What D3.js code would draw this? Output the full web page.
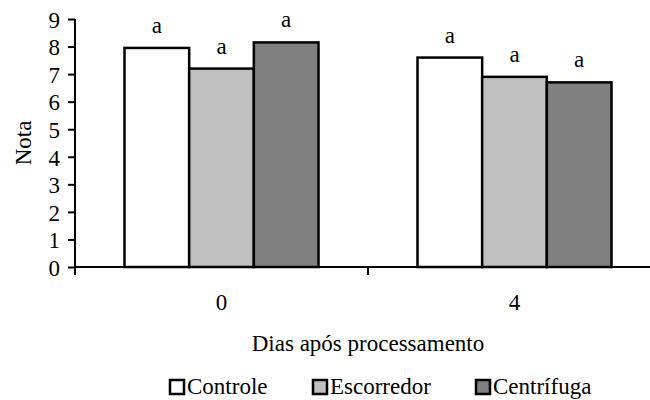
<!DOCTYPE html>
<html>
<head>
<meta charset="utf-8">
<script src="https://cdn.jsdelivr.net/npm/d3@7"></script>
<style>
  body { margin: 0; background: #fff; }
</style>
</head>
<body>
<div id="my_dataviz"></div>
<script>
// data
const days = ["0", "4"]
const treatments = ["Controle", "Escorredor", "Centrífuga"]
const controle = [7.95, 7.6]
const escorredor = [7.2, 6.9]
const centrifuga = [8.15, 6.7]
const letters = [["a", "a", "a"], ["a", "a", "a"]]
const yTicks = [0, 1, 2, 3, 4, 5, 6, 7, 8, 9]
const colors = ["#ffffff", "#c0c0c0", "#808080"]

const series = [controle, escorredor, centrifuga]

const W = 650, H = 400
const FONT = "Liberation Serif"
const FS = 23
// plot box (right edge runs a bit past the window, like the original)
const margin = { top: 19, left: 75, bottom: 133 },
    plotRight = 661,
    height = H - margin.top - margin.bottom

const svg = d3.select("#my_dataviz")
    .append("svg")
    .attr("width", W)
    .attr("height", H)

// scales
const x0 = d3.scaleBand()
    .domain(days)
    .range([margin.left, plotRight])

const x1 = d3.scaleBand()
    .domain(treatments)
    .range([49.5, x0.bandwidth() - 49.5])

const y = d3.scaleLinear()
    .domain([0, 9])
    .range([margin.top + height, margin.top])

// bars
days.forEach((day, i) => {
    const g = svg.append("g")
        .attr("transform", `translate(${x0(day)},0)`)
    treatments.forEach((t, j) => {
        const v = series[j][i]
        g.append("rect")
            .attr("x", x1(t))
            .attr("y", y(v))
            .attr("width", x1.bandwidth())
            .attr("height", y(0) - y(v))
            .attr("fill", colors[j])
            .attr("stroke", "#000")
            .attr("stroke-width", 2.5)
        g.append("text")
            .attr("x", x1(t) + x1.bandwidth() / 2)
            .attr("y", y(v) - 15)
            .attr("text-anchor", "middle")
            .attr("font-family", FONT)
            .attr("font-size", FS)
            .text(letters[i][j])
    })
})

// y axis
const yAxis = svg.append("g")
    .attr("transform", `translate(${margin.left},0)`)
    .call(d3.axisLeft(y).tickValues(yTicks).tickSize(7).tickPadding(8).tickFormat(d3.format("d")))
yAxis.attr("font-family", FONT).attr("font-size", FS)
yAxis.selectAll("path, line").attr("stroke", "#000").attr("stroke-width", 2)
yAxis.select(".domain").attr("d", `M0,${y(9)}V${y(0)}`)
yAxis.selectAll("text")
    .attr("fill", "#000")
    .attr("dy", "0.36em")

// x axis: ticks between groups, labels centred under them
const xAxis = svg.append("g")
    .attr("transform", `translate(0,${y(0)})`)
xAxis.append("line")
    .attr("x1", margin.left).attr("x2", W)
    .attr("stroke", "#000").attr("stroke-width", 2)
x0.domain().concat(["end"]).forEach((d, i) => {
    const xp = margin.left + i * x0.bandwidth()
    xAxis.append("line")
        .attr("x1", xp).attr("x2", xp)
        .attr("y1", 0).attr("y2", 8)
        .attr("stroke", "#000").attr("stroke-width", 2)
})
days.forEach(d => {
    xAxis.append("text")
        .attr("x", x0(d) + x0.bandwidth() / 2)
        .attr("y", 43)
        .attr("text-anchor", "middle")
        .attr("font-family", FONT)
        .attr("font-size", FS)
        .text(d)
})

// axis titles
svg.append("text")
    .attr("x", (margin.left + plotRight) / 2)
    .attr("y", 351)
    .attr("text-anchor", "middle")
    .attr("font-family", FONT)
    .attr("font-size", FS)
    .text("Dias após processamento")

svg.append("text")
    .attr("transform", `translate(31,${(y(0) + y(9)) / 2}) rotate(-90)`)
    .attr("text-anchor", "middle")
    .attr("font-family", FONT)
    .attr("font-size", FS)
    .text("Nota")

// legend
const legendX = [170, 313, 476]
const legend = svg.append("g")
treatments.forEach((t, j) => {
    legend.append("rect")
        .attr("x", legendX[j]).attr("y", 380)
        .attr("width", 14).attr("height", 14)
        .attr("fill", colors[j])
        .attr("stroke", "#000")
        .attr("stroke-width", 2.5)
    legend.append("text")
        .attr("x", legendX[j] + 17)
        .attr("y", 394)
        .attr("font-family", FONT)
        .attr("font-size", FS)
        .text(t)
})
</script>
</body>
</html>
